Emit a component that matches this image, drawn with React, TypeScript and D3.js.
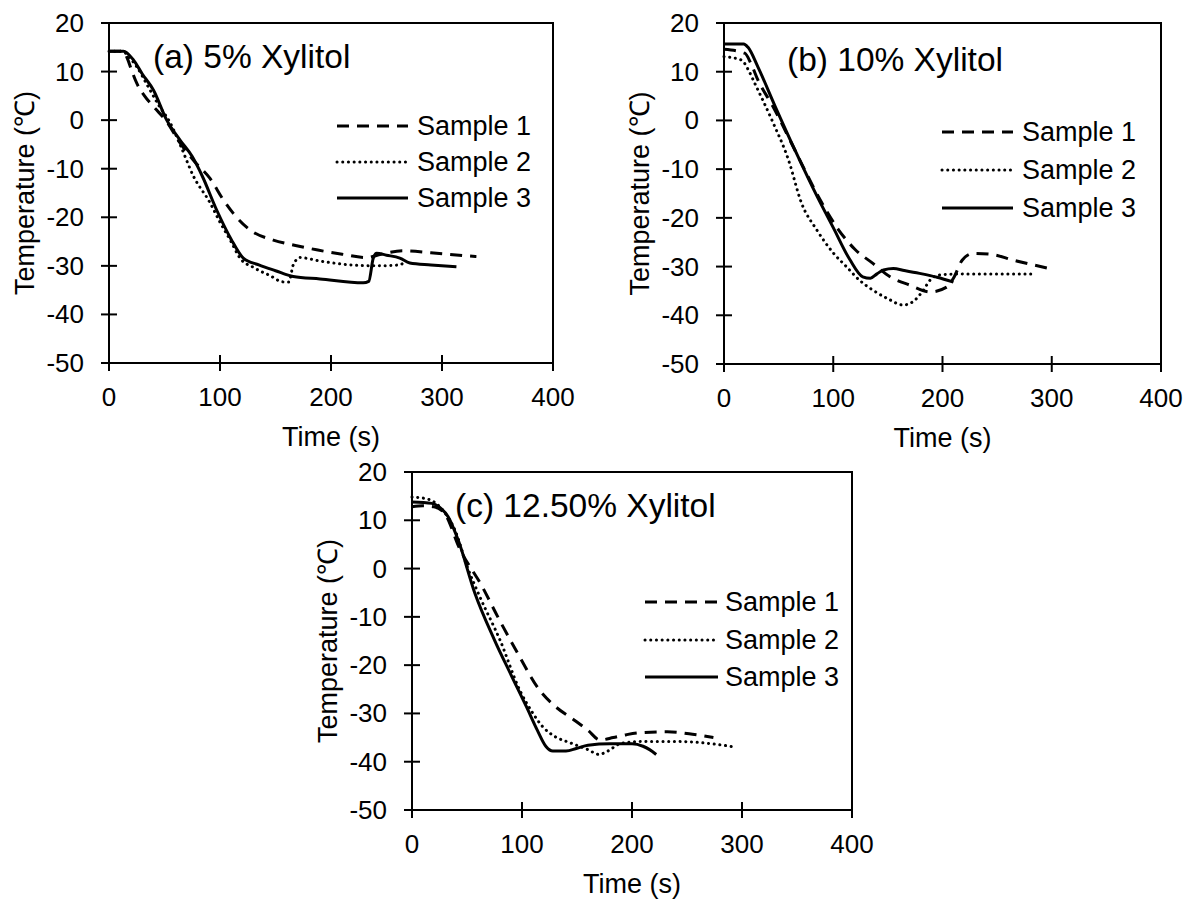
import React from "react";
import * as d3 from "d3";

// ---------- data ----------
const xTicks = [0, 100, 200, 300, 400];
const yTicks = [20, 10, 0, -10, -20, -30, -40, -50];
const yTickLabels = ["20", "10", "0", "-10", "-20", "-30", "-40", "-50"];
const xTickLabels = ["0", "100", "200", "300", "400"];
const seriesNames = ["Sample 1", "Sample 2", "Sample 3"];
const panelTitles = ["(a) 5% Xylitol", "(b) 10% Xylitol", "(c) 12.50% Xylitol"];

const aSample1: [number, number][] = [[0,14.2],[12,14.2],[16,13],[20,10.5],[25,7.6],[32,5],[40,2.8],[52,-0.3],[64,-4.7],[77,-8.5],[91,-12],[103,-16.4],[112,-19.2],[127,-22.6],[148,-24.7],[168,-25.8],[187,-26.7],[210,-27.6],[232,-28.3],[245,-27.6],[265,-26.9],[290,-27.3],[310,-27.7],[331,-28.1]];
const aSample2: [number, number][] = [[0,14.2],[12,14.2],[18,13],[25,11],[35,7],[45,3],[55,-0.5],[64,-5],[76,-11.5],[91,-17],[100,-21],[110,-25],[118,-28.4],[130,-30.3],[145,-32],[157,-33.3],[162,-33.3],[166,-29.8],[172,-28.3],[190,-29],[217,-29.8],[240,-30],[262,-29.8],[266,-29.2]];
const aSample3: [number, number][] = [[0,14.2],[13,14.2],[22,12.4],[30,9.5],[40,6.2],[52,0],[64,-4.1],[75,-7.5],[84,-11.5],[97,-18.5],[110,-24.5],[121,-28.4],[135,-29.8],[150,-31],[166,-32.2],[190,-32.7],[229,-33.5],[234,-33.2],[238,-28.5],[241,-27.4],[250,-27.8],[262,-28.4],[271,-29.4],[290,-29.8],[313,-30.2]];

const bSample1: [number, number][] = [[0,14.6],[19,13.8],[25,11.5],[31,8.3],[44,3.2],[68,-7.5],[88,-16.3],[105,-22.5],[120,-26.5],[136,-29.3],[152,-32.1],[170,-33.8],[189,-35.2],[204,-34.2],[210,-32.4],[218,-28.7],[228,-27.3],[245,-27.5],[265,-28.7],[296,-30.3]];
const bSample2: [number, number][] = [[0,13.1],[16,12.4],[22,10.5],[28,7.7],[44,0],[59,-8.1],[71,-17],[85,-22.5],[100,-27.2],[112,-30],[124,-32.8],[136,-34.8],[150,-36.6],[164,-37.9],[173,-37.2],[182,-35],[189,-32.7],[198,-31.7],[220,-31.5],[250,-31.5],[283,-31.5]];
const bSample3: [number, number][] = [[0,15.7],[18,15.7],[22,15],[31,11],[47,2.8],[65,-6.1],[85,-15.5],[100,-22],[115,-28.5],[127,-32.1],[134,-32.4],[140,-31.5],[146,-30.7],[155,-30.4],[165,-30.8],[179,-31.4],[195,-32.2],[210,-33.2]];

const cSample1: [number, number][] = [[0,12.8],[10,13],[20,12.8],[30,11.3],[43,4.3],[64,-3.8],[78,-10],[96,-17.5],[116,-25.2],[130,-28.5],[147,-31.3],[160,-33.5],[171,-35.5],[183,-35],[195,-34.4],[207,-34],[232,-33.8],[255,-34.3],[274,-35]];
const cSample2: [number, number][] = [[0,14.8],[10,14.6],[20,13.8],[30,11.5],[39,8],[50,0.5],[62,-6],[80,-14.8],[98,-25.2],[110,-30],[119,-32.8],[130,-34.8],[144,-36.1],[160,-37.5],[170,-38.5],[178,-37.8],[190,-36.2],[213,-35.8],[240,-35.8],[260,-36],[280,-36.5],[292,-36.9]];
const cSample3: [number, number][] = [[0,13.8],[18,13.5],[25,12.7],[33,10.7],[42,5.9],[57,-5],[75,-14.8],[90,-22],[104,-28.6],[114,-33.5],[122,-36.9],[128,-37.8],[140,-37.8],[150,-37.2],[160,-36.6],[180,-36.3],[200,-36.3],[210,-36.8],[216,-37.5],[222,-38.5]];

// ---------- layout ----------
const FONT = "'Liberation Sans', Arial, Helvetica, sans-serif";
const dashStyles = ["12,8", "0.1,5.6", ""];

type PanelCfg = {
  title: string;
  left: number; right: number; top: number; bottom: number;
  titleX: number; titleY: number;
  legX1: number; legX2: number; legTextX: number; legY: number[];
  series: [number, number][][];
};

const panels: PanelCfg[] = [
  { title: panelTitles[0], left: 109, right: 553, top: 23, bottom: 363, titleX: 153, titleY: 56,
    legX1: 337, legX2: 408, legTextX: 417, legY: [126, 162, 198], series: [aSample1, aSample2, aSample3] },
  { title: panelTitles[1], left: 724, right: 1161, top: 23, bottom: 364, titleX: 787, titleY: 59,
    legX1: 942, legX2: 1013, legTextX: 1022, legY: [132, 170, 208], series: [bSample1, bSample2, bSample3] },
  { title: panelTitles[2], left: 412, right: 852, top: 472, bottom: 810, titleX: 455, titleY: 505,
    legX1: 645, legX2: 718, legTextX: 725, legY: [602, 640, 677], series: [cSample1, cSample2, cSample3] },
];

function Panel({ cfg }: { cfg: PanelCfg }) {
  const x = d3.scaleLinear().domain([0, 400]).range([cfg.left, cfg.right]);
  const y = d3.scaleLinear().domain([-50, 20]).range([cfg.bottom, cfg.top]);
  const line = d3.line<[number, number]>().x(d => x(d[0])).y(d => y(d[1])).curve(d3.curveMonotoneX);
  return (
    <g>
      {cfg.series.map((s, i) => (
        <path key={i} d={line(s) || ""} fill="none" stroke="#000" strokeWidth={3}
          strokeDasharray={dashStyles[i] || undefined} strokeLinecap={i === 1 ? "round" : "butt"}
          strokeLinejoin="round" />
      ))}
      <rect x={cfg.left} y={cfg.top} width={cfg.right - cfg.left} height={cfg.bottom - cfg.top}
        fill="none" stroke="#000" strokeWidth={2} />
      {yTicks.map((t, i) => (
        <g key={"y" + i}>
          <line x1={cfg.left - 8} x2={cfg.left + 8} y1={y(t)} y2={y(t)} stroke="#000" strokeWidth={2} />
          <text x={cfg.left - 25} y={y(t)} textAnchor="end" dominantBaseline="central"
            fontFamily={FONT} fontSize={26}>{yTickLabels[i]}</text>
        </g>
      ))}
      {xTicks.map((t, i) => (
        <g key={"x" + i}>
          <line x1={x(t)} x2={x(t)} y1={cfg.bottom - 8} y2={cfg.bottom + 8} stroke="#000" strokeWidth={2} />
          <text x={x(t)} y={cfg.bottom + 34} textAnchor="middle" dominantBaseline="central"
            fontFamily={FONT} fontSize={26}>{xTickLabels[i]}</text>
        </g>
      ))}
      <text x={(cfg.left + cfg.right) / 2} y={cfg.bottom + 74} textAnchor="middle" dominantBaseline="central"
        fontFamily={FONT} fontSize={27}>Time (s)</text>
      <text transform={`translate(${cfg.left - 84},${(cfg.top + cfg.bottom) / 2}) rotate(-90)`}
        textAnchor="middle" dominantBaseline="central" fontFamily={FONT} fontSize={27}>Temperature (℃)</text>
      <text x={cfg.titleX} y={cfg.titleY} dominantBaseline="central" fontFamily={FONT} fontSize={33.5}>{cfg.title}</text>
      {seriesNames.map((n, i) => (
        <g key={"l" + i}>
          <line x1={cfg.legX1} x2={cfg.legX2} y1={cfg.legY[i]} y2={cfg.legY[i]} stroke="#000" strokeWidth={3}
            strokeDasharray={dashStyles[i] || undefined} strokeLinecap={i === 1 ? "round" : "butt"} />
          <text x={cfg.legTextX} y={cfg.legY[i]} dominantBaseline="central" fontFamily={FONT} fontSize={27}>{n}</text>
        </g>
      ))}
    </g>
  );
}

export default function App() {
  return (
    <svg width={1191} height={901} style={{ position: "absolute", left: 0, top: 0, background: "#fff" }}>
      <rect x={0} y={0} width={1191} height={901} fill="#fff" />
      {panels.map((p, i) => <Panel key={i} cfg={p} />)}
    </svg>
  );
}
